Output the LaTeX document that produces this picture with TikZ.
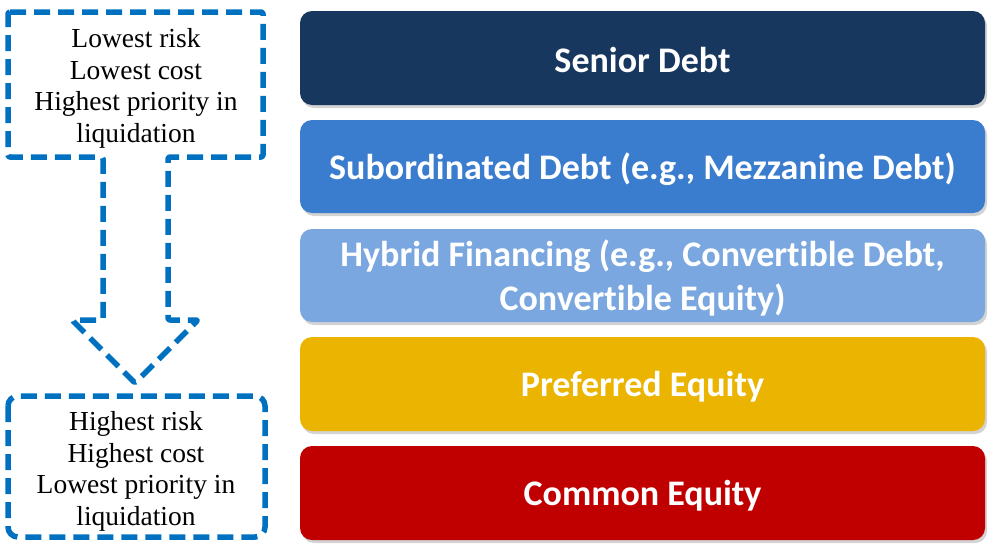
\documentclass[tikz,border=0pt]{standalone}
\usepackage{fontspec}
\setmainfont{Liberation Serif}
\newfontfamily\barfont[Ligatures=NoCommon]{Carlito}
\usetikzlibrary{shadows}
\definecolor{cSenior}{RGB}{24,55,94}
\definecolor{cSub}{RGB}{58,125,206}
\definecolor{cHyb}{RGB}{122,167,223}
\definecolor{cPref}{RGB}{234,180,0}
\definecolor{cCom}{RGB}{192,0,0}
\definecolor{cDash}{RGB}{0,112,192}
\tikzset{
  bar/.style={rounded corners=12pt, draw=none, drop shadow={shadow xshift=2pt, shadow yshift=-3pt, opacity=0.35}},
  bartext/.style={font=\barfont\bfseries\fontsize{36}{44}\selectfont, text=white, align=center},
  dashline/.style={draw=cDash, line width=5.5pt, dash pattern=on 16pt off 8pt},
  sidetext/.style={font=\fontsize{27.5}{31.5}\selectfont, align=center, text=black}
}
\begin{document}
\begin{tikzpicture}[x=1pt,y=-1pt]
\useasboundingbox (0,0) rectangle (995,552);
% bars
\fill[bar, cSenior] (300,11) rectangle (985,105);
\node[bartext] (senior) at (642.5,60) {Senior Debt};
\fill[bar, cSub] (300,120) rectangle (985,213);
\node[bartext] (sub) at (642.5,169) {Subordinated Debt (e.g., Mezzanine Debt)};
\fill[bar, cHyb] (300,229) rectangle (985,322);
\node[bartext] (hyb) at (642.5,278) {Hybrid Financing (e.g., Convertible Debt,\\Convertible Equity)};
\fill[bar, cPref] (300,337) rectangle (985,431);
\node[bartext] (pref) at (642.5,387) {Preferred Equity};
\fill[bar, cCom] (300,446) rectangle (985,540);
\node[bartext] (com) at (642.5,496) {Common Equity};
% callout arrow
\draw[dashline, line join=round, rounded corners=2pt]
  (8,12) -- (263,12) -- (263,157) -- (168,157) -- (168,320) -- (198,320)
  -- (135,383) -- (72,320) -- (103,320) -- (103,157) -- (8,157) -- cycle;
\node[sidetext] (top) at (136,88.5) {Lowest risk\\Lowest cost\\Highest priority in\\liquidation};
% bottom box
\draw[dashline, rounded corners=10pt] (8,396) rectangle (265,537);
\node[sidetext] (bottom) at (136,471.5) {Highest risk\\Highest cost\\Lowest priority in\\liquidation};
\end{tikzpicture}
\end{document}
